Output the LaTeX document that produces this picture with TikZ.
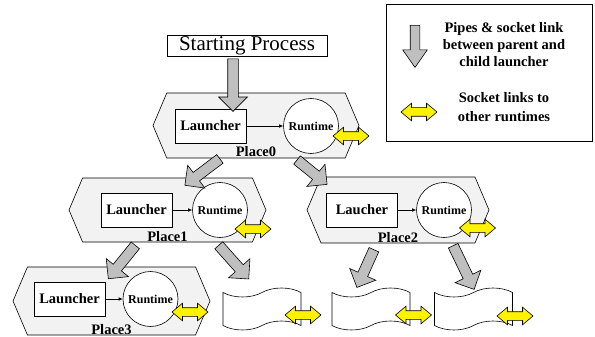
\documentclass[tikz,border=0pt]{standalone}
\usepackage{fontspec}
\setmainfont{Liberation Serif}
\usetikzlibrary{arrows.meta,positioning,shapes.symbols,shapes.arrows,calc}
\tikzset{
  startbox/.style={draw, line width=0.6pt, minimum width=160pt, minimum height=21pt, inner sep=0pt, font=\fontsize{21}{22}\selectfont},
  place/.style={draw, signal, signal to=west and east, signal pointer angle=134, fill=gray!10, line width=0.6pt, inner sep=0pt},
  launcher/.style={draw, fill=white, line width=0.6pt, minimum width=71pt, minimum height=34pt, inner sep=0pt, font=\fontsize{14.5}{16}\selectfont\bfseries},
  runtime/.style={draw, circle, fill=white, line width=0.6pt, minimum size=55pt, inner sep=0pt, font=\fontsize{12}{14}\selectfont\bfseries},
  placelabel/.style={anchor=base, inner sep=0pt, font=\fontsize{14.5}{16}\selectfont\bfseries},
  spawn/.style={-{Latex[length=4pt,width=3.5pt]}, line width=0.6pt},
  pipehead/.style={draw, single arrow, fill=gray!50, line width=0.6pt, inner xsep=0pt, inner ysep=5pt, single arrow head extend=9pt, single arrow tip angle=90, sloped, allow upside down},
  socklink/.style={draw, double arrow, fill=yellow, line width=0.6pt, minimum height=36pt, inner xsep=0pt, inner ysep=4pt, double arrow head extend=4.5pt, double arrow tip angle=80},
  doc/.style={draw, tape, fill=white, line width=0.6pt, minimum width=78pt, minimum height=42pt, tape bend height=9pt},
  legendtext/.style={align=center, font=\fontsize{14.5}{17}\selectfont\bfseries}
}
\newcommand{\pipe}[3][]{%
  \path let \p1=($(#3)-(#2)$), \n1={veclen(\x1,\y1)} in
    (#2) -- (#3) node[pipehead, midway, minimum height=\n1, #1] {};}

\begin{document}
\begin{tikzpicture}[x=1pt, y=-1pt]
  \useasboundingbox (0,0) rectangle (595,337);

  % Starting process and places
  \node[startbox] (st) at (247,45.5) {Starting Process};
  \node[place, minimum width=206pt, minimum height=65pt] (p0) at (256,125.5) {};
  \node[place, minimum width=197pt, minimum height=64pt] (p1) at (167.5,210) {};
  \node[place, minimum width=182pt, minimum height=66pt] (p2) at (398,210) {};
  \node[place, minimum width=197pt, minimum height=68pt] (p3) at (111.5,301) {};

  \node[launcher] (l0) at (210.5,126) {Launcher};
  \node[runtime] (r0) at (311,126) {Runtime};
  \node[launcher] (l1) at (136.5,210) {Launcher};
  \node[runtime] (r1) at (220,210) {Runtime};
  \node[launcher] (l2) at (362,210) {Laucher};
  \node[runtime] (r2) at (444,210) {Runtime};
  \node[launcher] (l3) at (69.5,299) {Launcher};
  \node[runtime] (r3) at (150.5,299) {Runtime};

  \draw[spawn] (l0) -- (r0);
  \draw[spawn] (l1) -- (r1);
  \draw[spawn] (l2) -- (r2);
  \draw[spawn] (l3) -- (r3);

  \node[placelabel] at ($(p0.south)+(0,-2)$) {Place0};
  \node[placelabel] at ($(p1.south)+(0,-1)$) {Place1};
  \node[placelabel] at ($(p2.south)+(0,-1)$) {Place2};
  \node[placelabel] at ($(p3.south)+(0,-1)$) {Place3};

  % Unstarted places
  \node[doc] (d1) at (262,309) {};
  \node[doc] (d2) at (371,309) {};
  \node[doc] (d3) at (473.5,309) {};

  % Socket links
  \node[socklink] (y0) at (351,136) {};
  \node[socklink] (y1) at (253,229) {};
  \node[socklink] (y2) at (477.5,228) {};
  \node[socklink] (y3) at (190,312) {};
  \node[socklink] (yd1) at (303,315) {};
  \node[socklink] (yd2) at (413.5,315) {};
  \node[socklink] (yd3) at (515,316) {};

  % Pipes between parent and child launchers
  \coordinate (a0) at ($(st.south)+(-14,0)$);
  \coordinate (b0) at ($(p0.north)+(-23,16)$);
  \coordinate (a1) at ($(p0.south)+(-34,-1)$);
  \coordinate (b1) at ($(p1.north)+(19.5,6)$);
  \coordinate (a2) at ($(p0.south)+(39,0)$);
  \coordinate (b2) at ($(p2.north)+(-73,6)$);
  \coordinate (a3) at ($(p1.south)+(-30.5,1)$);
  \coordinate (b3) at ($(p3.north)+(-1.5,10)$);
  \coordinate (a4) at ($(p1.south)+(49.5,1)$);
  \coordinate (b4) at ($(d1)+(-15,-32)$);
  \coordinate (a5) at ($(p2.south)+(-23,4)$);
  \coordinate (b5) at ($(d2)+(-13,-24)$);
  \coordinate (a6) at ($(p2.south)+(54,0)$);
  \coordinate (b6) at ($(d3)+(-0.5,-22)$);
  \pipe{a0}{b0}
  \pipe{a1}{b1}
  \pipe{a2}{b2}
  \pipe{a3}{b3}
  \pipe{a4}{b4}
  \pipe{a5}{b5}
  \pipe{a6}{b6}

  % Legend
  \node[draw, line width=0.6pt, minimum width=206pt, minimum height=137pt] (legend) at (489,72.5) {};
  \coordinate (ka) at (415,22);
  \coordinate (kb) at (415,64);
  \pipe[inner ysep=4.5pt, single arrow head extend=7.5pt, single arrow tip angle=70]{ka}{kb}
  \node[legendtext] (pipetext) at (504,45) {Pipes \& socket link\\between parent and\\child launcher};
  \node[socklink] (ykey) at (419,112) {};
  \node[legendtext, font=\fontsize{14.5}{19}\selectfont\bfseries] (socktext) at (504,107.5) {Socket links to\\other runtimes};
\end{tikzpicture}
\end{document}
